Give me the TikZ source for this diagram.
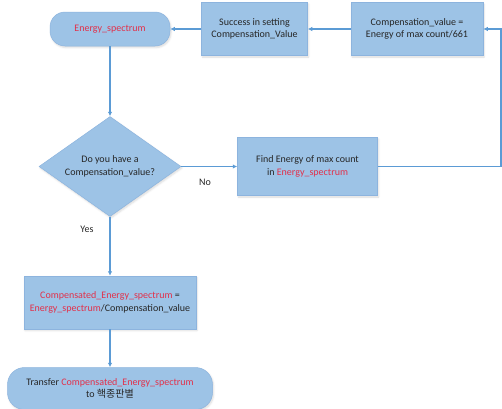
\documentclass[tikz,border=0pt]{standalone}
\usepackage{fontspec}
\setmainfont{Carlito}
\newfontfamily\kofont{Noto Sans CJK KR}
\usepackage{xcolor}
\usetikzlibrary{shapes.geometric, arrows.meta, positioning, calc, shadows.blur}
\definecolor{cazul}{HTML}{9DC3E6}
\definecolor{cborde}{HTML}{8DB4DE}
\definecolor{clinea}{HTML}{5B9BD5}
\definecolor{crojo}{HTML}{E2304A}
\definecolor{ctexto}{HTML}{262626}
\tikzset{
  caja/.style={rectangle, draw=cborde, fill=cazul, line width=0.5pt, align=center, inner sep=1pt,
               font=\fontsize{10}{12.5}\selectfont, text=ctexto,
               blur shadow={shadow xshift=1pt, shadow yshift=-1.5pt, shadow blur steps=4, shadow opacity=15}},
  pastilla/.style={caja, rounded corners=#1},
  rombo/.style={caja, diamond, aspect=1.42, inner sep=0pt},
  etiqueta/.style={font=\fontsize{10}{12.5}\selectfont, text=ctexto},
  flecha/.style={-{Latex[length=4.5pt,width=4.5pt]}, line width=1.1pt, draw=clinea},
}
\newcommand{\rojo}[1]{\textcolor{crojo}{#1}}

\begin{document}
\begin{tikzpicture}[x=1pt, y=-1pt]
        \useasboundingbox (0,0) rectangle (502,408);
        \node[pastilla=15pt, minimum width=120pt, minimum height=34pt] (espectro) at (110,29) {\rojo{Energy\_spectrum}};
        \node[caja, minimum width=106pt, minimum height=53pt, right=31pt of espectro] (exito) {Success in setting\\Compensation\_Value};
        \node[caja, minimum width=132pt, minimum height=53pt, right=43pt of exito] (valor) {Compensation\_value =\\Energy of max count/661};
        \node[rombo, minimum width=142pt, minimum height=100pt, below=70pt of espectro] (pregunta) {Do you have a\\Compensation\_value?};
        \node[caja, minimum width=140pt, minimum height=58pt, right=56pt of pregunta] (buscar) {Find Energy of max count\\in \rojo{Energy\_spectrum}};
        \node[caja, minimum width=172pt, minimum height=53pt, below=59pt of pregunta] (resultado) {\rojo{Compensated\_Energy\_spectrum} =\\\rojo{Energy\_spectrum}/Compensation\_value};
        \node[pastilla=17pt, minimum width=205pt, minimum height=42pt, below=38pt of resultado] (envio) {Transfer \rojo{Compensated\_Energy\_spectrum}\\to {\kofont 핵종판별}};
        \node[etiqueta] (no) at (205,182) {No};
        \node[etiqueta] (si) at (87,229) {Yes};
        \coordinate (borde) at (501,0);
        \draw[flecha] (espectro) -- (pregunta); \draw[flecha] (pregunta) -- (buscar);
        \draw[flecha] (pregunta) -- (resultado); \draw[flecha] (resultado) -- (envio);
        \draw[flecha] (buscar.east) -- (buscar.east -| borde) -- (valor.east -| borde) -- (valor.east);
        \draw[flecha] (valor) -- (exito); \draw[flecha] (exito) -- (espectro);
    \end{tikzpicture}
\end{document}
